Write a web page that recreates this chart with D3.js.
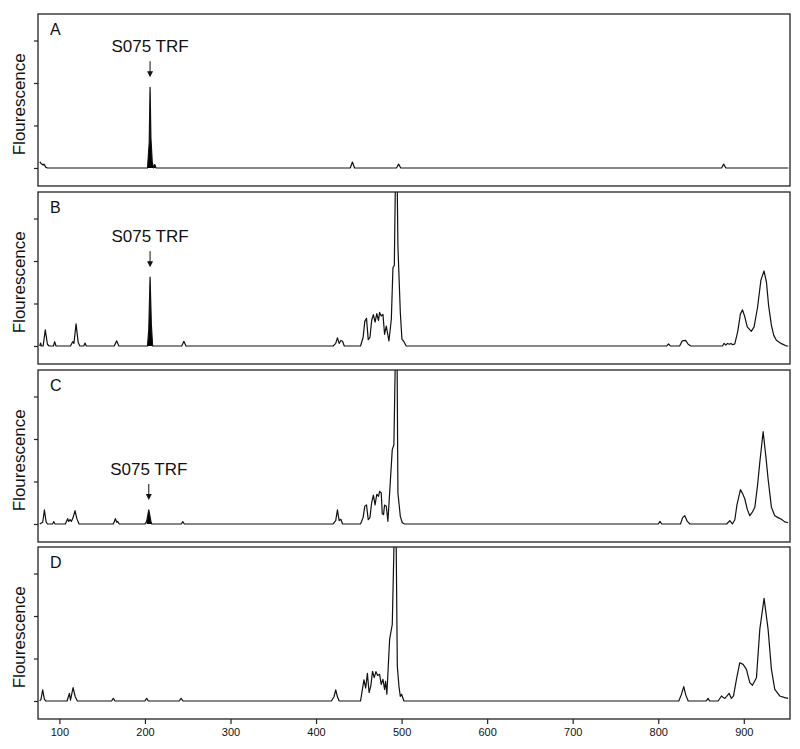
<!DOCTYPE html>
<html>
<head>
<meta charset="utf-8">
<script src="https://cdn.jsdelivr.net/npm/d3@7/dist/d3.min.js"></script>
<style>
  body { margin: 0; background: #fff; }
  svg { display: block; }
  text { font-family: "Liberation Sans", Arial, Helvetica, sans-serif; fill: #111; }
</style>
</head>
<body>
<svg id="chart" width="800" height="749"></svg>
<script>
// panel letters
const panels = ["A", "B", "C", "D"];

// traces: [fragment size (bp), fluorescence]
const traceA = [[77,140],[79,100],[81,70],[82,90],[84,20],[86,0],[203,0],[205,600],[206,1900],[207,700],[208.5,150],[210,0],[211.5,80],[213,0],
  [440,0],[442.5,140],[445,0],[494,0],[496.5,90],[499,0],[874,0],[876.5,90],[879,0],[952,0]];

const traceB = [[77,0],[78,70],[79,0],[81,0],[83.5,380],[86,40],[88,0],[93,0],[94.5,100],[96,0],[113,0],[115.5,100],[117,60],[119.5,520],[122,80],[124,0],
  [128.5,0],[130,70],[131.5,0],[164,0],[167,120],[169.5,0],[203,0],[204.5,400],[206,1620],[207.5,500],[209,0],[243,0],[245.5,110],[248,0],
  [420,0],[423,60],[425,190],[427,60],[429,130],[431,110],[433,0],
  [452,0],[455,200],[457,580],[459,650],[461,150],[463,200],[465,600],[467,740],[469,560],[471,760],[473,600],[474.3,790],[476.2,706],[478.2,745],
  [480.1,275],[482.1,470],[485.2,118],[488,628],[489.9,1840],[491.5,1900],[493,4300],[494.6,4300],[495.7,2350],[498.5,790],[500.4,157],[502.3,118],[505.4,0],
  [810,0],[812,50],[814,0],[825,0],[828,120],[832,133],[835,40],[838,0],[875,0],[877,60],[879,20],[881,60],[883,40],[885,60],[887,30],[889.5,50],
  [893,350],[896,750],[898.5,850],[901,700],[904,450],[908.8,345],[912,450],[916,900],[920,1550],[923.6,1765],[926.5,1500],[929,950],[932.3,487],
  [935,250],[938.1,133],[944,55],[949.9,0],[952,0]];

const traceC = [[77,0],[80.5,40],[82.5,330],[84.5,50],[86,0],[92,0],[93.3,55],[95,0],[107,0],[109.7,125],[111,60],[112.5,100],[114,60],[116,150],[118.3,313],[120.5,120],[123,0],
  [163,0],[165.5,125],[167,40],[168,60],[170,0],[200,0],[202,60],[204.5,330],[207,60],[208,0],[242.5,0],[244.2,55],[246,0],
  [420,0],[423,80],[425,330],[427,80],[429,110],[431,0],
  [452,0],[455,150],[457,420],[459,450],[461,100],[463,150],[465,500],[467,680],[469,450],[471,700],[473,650],[474.3,768],[476.2,729],[477.4,243],[478.9,220],
  [480.1,447],[482.1,420],[484,63],[489.1,1750],[491,1866],[493,4300],[494.6,4300],[495.7,729],[498.5,180],[500.8,30],[503.5,0],
  [800,0],[802,60],[804,0],[826,0],[828.5,150],[831,196],[834,60],[837,0],[880,0],[883.6,78],[886.7,0],[889.5,100],[892,450],[896.1,807],[898.5,720],
  [901.2,588],[904,350],[907,196],[910,280],[912.9,392],[916,900],[918.7,1450],[922.6,2172],[925.7,1608],[928.4,1059],[932.3,392],[936.2,196],
  [940.1,150],[944,110],[947.9,50],[951.8,30]];

const traceD = [[77,0],[78.5,40],[80.5,260],[82.5,40],[84,0],[109,0],[111.7,180],[113,20],[116,313],[118.5,100],[121,0],[161,0],[163,63],[165,0],
  [200,0],[202,63],[204,0],[240,0],[242.3,63],[244.5,0],
  [418,0],[421,100],[423,260],[425,100],[427,0],
  [452,0],[454,250],[456,500],[458,300],[460,650],[462,200],[464,350],[466,700],[468,550],[470,690],[472,600],[474.3,628],[476.2,390],[478.2,510],
  [480.1,275],[481.3,463],[482.8,157],[486,1450],[489.1,1800],[491.8,4300],[493.4,4300],[495,820],[496.9,345],[498.5,110],[500,157],[502.7,0],
  [824,0],[827,150],[829.8,337],[832,150],[835,0],[856,0],[858.2,63],[860,0],[870,0],[873.9,118],[876,80],[877.8,60],[880,110],[882.8,180],[885.5,60],
  [888,118],[891.4,510],[895.3,900],[899.2,862],[903.1,745],[907,431],[910.1,370],[914.8,549],[918.7,1686],[923.7,2416],[928.4,1686],[932.3,745],
  [936.2,275],[942,118],[947.9,80],[951.8,63]];

const traces = [traceA, traceB, traceC, traceD];

// S075 TRF peak (bp, height) per panel, null when not labelled
const trfPeaks = [[206, 1900], [206, 1620], [204.5, 330], null];
const trfRange = [202, 213];

const xTicks = [100, 200, 300, 400, 500, 600, 700, 800, 900];
const yTicks = [0, 1000, 2000, 3000];

const svg = d3.select("#chart");
const x = d3.scaleLinear().domain([75, 954]).range([38, 790]);
const tops = [14, 192, 370, 547], ph = 172;

panels.forEach((name, i) => {
    const top = tops[i];
    const y = d3.scaleLinear().domain([-424, 3624]).range([top + ph, top]);
    const g = svg.append("g");

    g.append("clipPath").attr("id", "clip" + i)
     .append("rect").attr("x", x.range()[0]).attr("y", top)
     .attr("width", x.range()[1] - x.range()[0]).attr("height", ph);

    // y ticks (no labels)
    g.append("g")
     .attr("transform", `translate(${x.range()[0]},0)`)
     .call(d3.axisLeft(y).tickValues(yTicks).tickSize(4).tickFormat(""))
     .call(a => a.select(".domain").remove())
     .selectAll("line").attr("stroke", "#222").attr("stroke-width", 1.2);

    const plot = g.append("g").attr("clip-path", `url(#clip${i})`);

    // filled TRF peak
    if (trfPeaks[i]) {
        const seg = traces[i].filter(d => d[0] >= trfRange[0] && d[0] <= trfRange[1]);
        plot.append("path").datum(seg)
            .attr("d", d3.area().x(d => x(d[0])).y0(y(0)).y1(d => y(d[1])))
            .attr("fill", "#000");
    }

    plot.append("path").datum(traces[i])
        .attr("d", d3.line().x(d => x(d[0])).y(d => y(d[1])))
        .attr("fill", "none").attr("stroke", "#111").attr("stroke-width", 1.2)
        .attr("stroke-linejoin", "round");

    // frame
    g.append("rect").attr("x", x.range()[0]).attr("y", top)
     .attr("width", x.range()[1] - x.range()[0]).attr("height", ph)
     .attr("fill", "none").attr("stroke", "#222").attr("stroke-width", 1.3);

    g.append("text").attr("x", 50).attr("y", top + 21)
     .style("font-size", "16px").text(name);

    g.append("text")
     .attr("transform", `translate(25,${(y(0) + y(3000)) / 2}) rotate(-90)`)
     .attr("text-anchor", "middle").style("font-size", "17px")
     .text("Flourescence");

    if (trfPeaks[i]) {
        const px = x(trfPeaks[i][0]), tip = y(trfPeaks[i][1]) - 10;
        g.append("line").attr("x1", px).attr("x2", px)
         .attr("y1", tip - 16).attr("y2", tip - 4)
         .attr("stroke", "#111").attr("stroke-width", 1);
        g.append("path")
         .attr("d", `M${px - 3},${tip - 6}L${px + 3},${tip - 6}L${px},${tip}Z`)
         .attr("fill", "#111");
        g.append("text").attr("x", px).attr("y", tip - 25)
         .attr("text-anchor", "middle").style("font-size", "17px")
         .text("S075 TRF");
    }

    if (i === panels.length - 1) {
        g.append("g")
         .attr("transform", `translate(0,${top + ph})`)
         .call(d3.axisBottom(x).tickValues(xTicks).tickSize(5).tickPadding(4))
         .call(a => a.select(".domain").remove())
         .call(a => a.selectAll("line").attr("stroke", "#222").attr("stroke-width", 1.2))
         .call(a => a.selectAll("text").style("font-size", "11px")
                     .style("font-family", "'Liberation Sans', Arial, sans-serif").attr("fill", "#111"));
    }
});
</script>
</body>
</html>
